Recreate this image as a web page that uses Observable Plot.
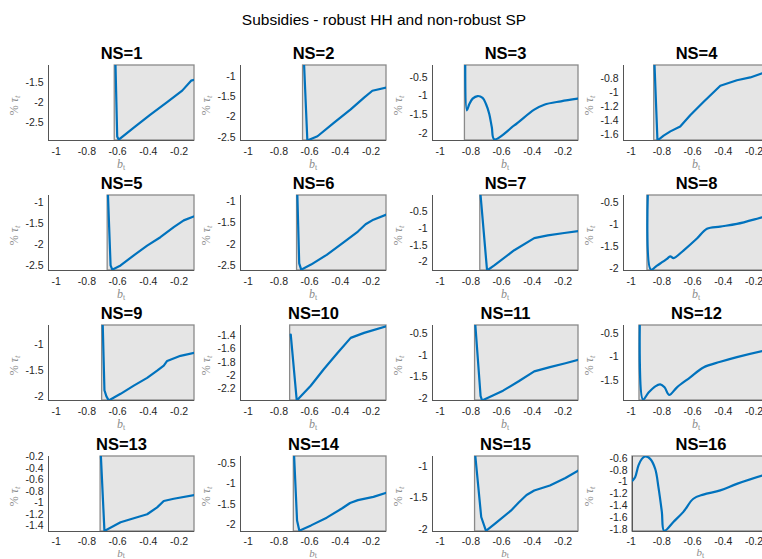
<!DOCTYPE html>
<html><head><meta charset="utf-8">
<script src="https://cdn.jsdelivr.net/npm/d3@7"></script>
<script src="https://cdn.jsdelivr.net/npm/@observablehq/plot@0.6"></script>
<style>
body{margin:0;background:#fff;}
#fig{position:relative;width:762px;height:559px;overflow:hidden;background:#fff;font-family:"Liberation Sans",Arial,Helvetica,sans-serif;}
#title{position:absolute;left:0;width:768px;top:11px;text-align:center;font-size:15.5px;line-height:18px;color:#000;}
#fig svg{position:absolute;overflow:visible;}
</style></head><body>
<div id="fig"><div id="title">Subsidies - robust HH and non-robust SP</div></div>
<script>
const titles = ["NS=1","NS=2","NS=3","NS=4","NS=5","NS=6","NS=7","NS=8","NS=9","NS=10","NS=11","NS=12","NS=13","NS=14","NS=15","NS=16"];
const xTickValues = [-1, -0.8, -0.6, -0.4, -0.2];
const xLo = [-1.05,-1.05,-1.05,-1.05,-1.05,-1.05,-1.05,-1.05,-1.05,-1.05,-1.05,-1.05,-1.05,-1.05,-1.05,-0.991];
const xHi = [-0.1,-0.1,-0.1,-0.1,-0.1,-0.1,-0.1,-0.1,-0.1,-0.1,-0.1,-0.1,-0.1,-0.1,-0.1,-0.1];
const yLo = [-2.95,-2.58,-2.18,-1.68,-2.62,-2.62,-2.25,-2.04,-2.08,-2.37,-2.05,-1.92,-1.5,-2.17,-2.03,-1.83];
const yHi = [-1.07,-0.725,-0.19,-0.61,-0.84,-0.85,-0.03,-0.35,-0.62,-1.25,-0.3,-0.33,-0.195,-0.33,-0.84,-0.57];
const shadeStart = [-0.619,-0.643,-0.839,-0.85,-0.665,-0.682,-0.739,-0.894,-0.701,-0.727,-0.773,-0.946,-0.711,-0.703,-0.773,-0.991];
const yTicks = [
  [-2.5,-2,-1.5],
  [-2.5,-2,-1.5,-1],
  [-2,-1.5,-1,-0.5],
  [-1.6,-1.4,-1.2,-1,-0.8],
  [-2.5,-2,-1.5,-1],
  [-2.5,-2,-1.5,-1],
  [-2,-1.5,-1,-0.5],
  [-2,-1.5,-1,-0.5],
  [-2,-1.5,-1],
  [-2.2,-2,-1.8,-1.6,-1.4],
  [-2,-1.5,-1,-0.5],
  [-1.5,-1,-0.5],
  [-1.4,-1.2,-1,-0.8,-0.6,-0.4,-0.2],
  [-2,-1.5,-1,-0.5],
  [-2,-1.5,-1],
  [-1.8,-1.6,-1.4,-1.2,-1,-0.8,-0.6]
];
const curveX = [
  [-0.614,-0.603,-0.593,-0.495,-0.387,-0.278,-0.18,-0.122,-0.1],
  [-0.636,-0.615,-0.549,-0.441,-0.333,-0.246,-0.192,-0.1],
  [-0.837,-0.826,-0.811,-0.789,-0.756,-0.724,-0.702,-0.681,-0.664,-0.648,-0.518,-0.388,-0.323,-0.214,-0.106],
  [-0.848,-0.829,-0.789,-0.745,-0.681,-0.616,-0.53,-0.42,-0.312,-0.225,-0.147,-0.1],
  [-0.663,-0.646,-0.635,-0.581,-0.495,-0.408,-0.322,-0.235,-0.17,-0.1],
  [-0.68,-0.668,-0.655,-0.591,-0.489,-0.388,-0.286,-0.236,-0.185,-0.1],
  [-0.737,-0.695,-0.648,-0.518,-0.388,-0.3,-0.193,-0.1],
  [-0.892,-0.872,-0.832,-0.767,-0.746,-0.724,-0.66,-0.572,-0.507,-0.421,-0.312,-0.147,-0.1],
  [-0.697,-0.686,-0.673,-0.658,-0.581,-0.495,-0.408,-0.343,-0.3,-0.278,-0.191,-0.1],
  [-0.723,-0.684,-0.593,-0.507,-0.419,-0.333,-0.246,-0.1],
  [-0.771,-0.737,-0.727,-0.591,-0.489,-0.388,-0.286,-0.185,-0.1],
  [-0.944,-0.923,-0.887,-0.843,-0.811,-0.783,-0.753,-0.702,-0.616,-0.53,-0.42,-0.312,-0.147,-0.1],
  [-0.709,-0.686,-0.581,-0.495,-0.408,-0.343,-0.3,-0.235,-0.1],
  [-0.701,-0.682,-0.667,-0.591,-0.489,-0.388,-0.337,-0.286,-0.185,-0.1],
  [-0.771,-0.733,-0.702,-0.641,-0.54,-0.489,-0.438,-0.388,-0.286,-0.185,-0.1],
  [-0.991,-0.974,-0.952,-0.93,-0.908,-0.876,-0.843,-0.822,-0.8,-0.785,-0.725,-0.66,-0.595,-0.53,-0.42,-0.312,-0.147,-0.1]
];
const curveY = [
  [-1.07,-2.85,-2.93,-2.63,-2.3,-1.99,-1.7,-1.45,-1.425],
  [-0.725,-2.58,-2.475,-2.14,-1.81,-1.52,-1.35,-1.27],
  [-0.19,-1.38,-1.22,-1.07,-1.0,-1.05,-1.21,-1.47,-1.83,-2.15,-1.78,-1.36,-1.23,-1.14,-1.07],
  [-0.61,-1.68,-1.61,-1.55,-1.48,-1.32,-1.13,-0.9,-0.82,-0.78,-0.72,-0.69],
  [-0.84,-2.5,-2.6,-2.5,-2.26,-2.03,-1.83,-1.59,-1.43,-1.33],
  [-0.85,-2.45,-2.6,-2.48,-2.25,-1.98,-1.7,-1.53,-1.42,-1.3],
  [-0.03,-2.25,-2.1,-1.65,-1.29,-1.21,-1.14,-1.08],
  [-0.35,-2.02,-1.93,-1.78,-1.72,-1.76,-1.59,-1.32,-1.1,-1.05,-0.99,-0.84,-0.8],
  [-0.62,-1.88,-2.0,-2.08,-1.95,-1.79,-1.64,-1.5,-1.4,-1.31,-1.21,-1.15],
  [-1.385,-2.37,-2.15,-1.9,-1.66,-1.435,-1.36,-1.26],
  [-0.3,-1.95,-2.05,-1.82,-1.6,-1.37,-1.27,-1.18,-1.1],
  [-0.33,-1.9,-1.75,-1.62,-1.58,-1.64,-1.8,-1.64,-1.43,-1.22,-1.1,-1.0,-0.87,-0.84],
  [-0.195,-1.49,-1.34,-1.27,-1.2,-1.08,-0.97,-0.93,-0.865],
  [-0.33,-1.9,-2.15,-2.02,-1.83,-1.6,-1.47,-1.4,-1.32,-1.22],
  [-0.84,-1.8,-2.02,-1.9,-1.7,-1.57,-1.45,-1.38,-1.3,-1.18,-1.06],
  [-0.975,-0.92,-0.72,-0.61,-0.57,-0.61,-0.78,-1.09,-1.5,-1.82,-1.67,-1.5,-1.28,-1.21,-1.14,-1.03,-0.89,-0.86]
];

const fig = document.getElementById("fig");
const colLeft = [48, 239.75, 431.5, 623.25];
const rowTop = [65, 195, 324.5, 455.7];
const frameW = 146, frameH = 75;
const refLo = -1.05, refHi = -0.1;
const pxPerUnit = frameW / (refHi - refLo);
const mL = 52, mR = 12, mT = 32, mB = 38;
const smooth = new Set([2, 7, 11, 15]);
const fmt = d => String(d);

titles.forEach((t, i) => {
  const r = Math.floor(i / 4), c = i % 4;
  const x0 = xLo[i], x1 = xHi[i];
  const w = (x1 - x0) * pxPerUnit;
  const left = colLeft[c] + (x0 - refLo) * pxPerUnit;
  const pts = curveX[i].map((x, k) => ({x, y: curveY[i][k]}));
  const lastRow = r === 3;
  const chart = Plot.plot({
    width: w + mL + mR,
    height: frameH + mT + mB,
    marginLeft: mL, marginRight: mR, marginTop: mT, marginBottom: mB,
    style: {fontFamily: '"Liberation Sans", Arial, Helvetica, sans-serif', fontSize: "10.5px", color: "#262626", background: "transparent", overflow: "visible"},
    x: {domain: [x0, x1], ticks: xTickValues, tickFormat: fmt, tickSize: 0, tickPadding: lastRow ? 6 : 7, label: null},
    y: {domain: [yLo[i], yHi[i]], ticks: yTicks[i], tickFormat: fmt, tickSize: 0, tickPadding: 5, label: null},
    marks: [
      Plot.rect([t], {x1: () => shadeStart[i], x2: () => x1, y1: () => yLo[i], y2: () => yHi[i], fill: "#e5e5e5", stroke: "#8a8a8a", strokeWidth: 1.3}),
      Plot.ruleX([x0], {stroke: "#555", strokeWidth: 1}),
      Plot.ruleY([yLo[i]], {stroke: "#555", strokeWidth: 1}),
      Plot.line(pts, {x: "x", y: "y", stroke: "#0072BD", strokeWidth: 2.2, clip: true, curve: smooth.has(i) ? "catmull-rom" : "linear"}),
      Plot.text([t], {frameAnchor: "top", lineAnchor: "middle", dy: -12, fontSize: 16.5, fontWeight: "bold", fill: "#000"})
    ]
  });
  chart.style.left = (left - mL) + "px";
  chart.style.top = (rowTop[r] - mT) + "px";
  const svg = d3.select(chart);
  const xlOffset = lastRow ? 22.5 : 25;
  const xl = svg.append("text")
    .attr("x", mL + w / 2).attr("y", mT + frameH + xlOffset)
    .attr("text-anchor", "middle").attr("dominant-baseline", "middle")
    .attr("font-family", '"Liberation Serif", "DejaVu Serif", serif').attr("font-size", lastRow ? 11 : 12).attr("fill", "#8c8c8c");
  xl.append("tspan").attr("font-style", "italic").text("b");
  xl.append("tspan").attr("font-size", 8).attr("dy", 2.5).text("t");
  const yx = mL - 33 - (left - colLeft[c]);
  const yy = mT + frameH / 2 + 3;
  const yl = svg.append("text")
    .attr("transform", `translate(${yx},${yy}) rotate(-90)`)
    .attr("text-anchor", "middle").attr("dominant-baseline", "middle")
    .attr("font-family", '"Liberation Serif", "DejaVu Serif", serif').attr("font-size", 12).attr("fill", "#8c8c8c");
  yl.append("tspan").text("% ");
  yl.append("tspan").attr("font-style", "italic").text("τ");
  yl.append("tspan").attr("font-size", 8.5).attr("dy", 3).attr("font-style", "italic").text("t");
  fig.appendChild(chart);
});
</script>
</body></html>
